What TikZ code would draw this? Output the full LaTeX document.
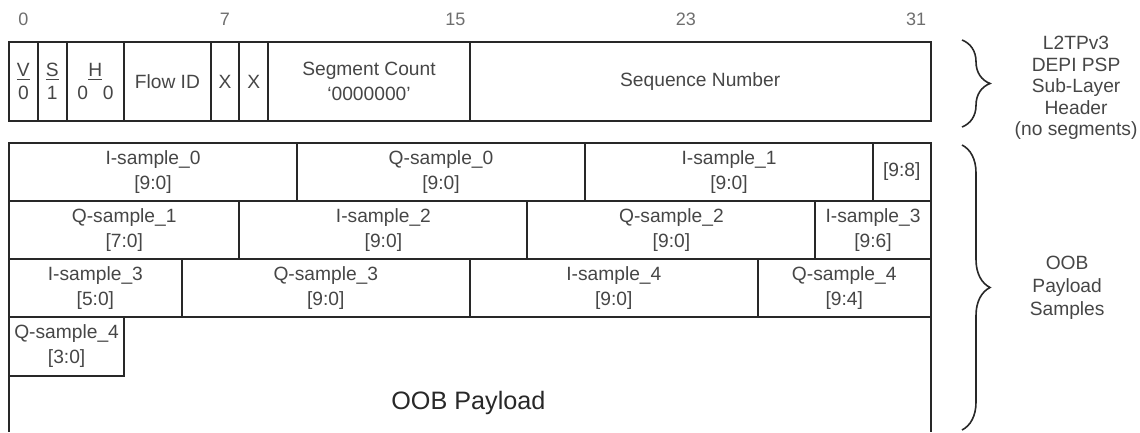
\documentclass[tikz,border=0pt]{standalone}
\usepackage{fontspec}
\setmainfont{Liberation Sans}
\usetikzlibrary{decorations.pathreplacing}

\definecolor{linegray}{RGB}{40,40,40}
\definecolor{textgray}{RGB}{70,70,70}
\definecolor{numgray}{RGB}{110,110,110}

\tikzset{
	field/.style={draw=linegray, line width=1pt},
	ftext/.style={text=textgray, align=center, inner sep=0pt, font=\fontsize{9.6}{12.5}\selectfont},
	bitno/.style={text=numgray, font=\fontsize{9}{11}\selectfont},
	sidetext/.style={text=textgray, align=center, font=\fontsize{9.6}{10.8}\selectfont},
	sidebrace/.style={draw=linegray, line width=0.8pt, decorate, decoration={brace, amplitude=14pt}}
}

\begin{document}
\begin{tikzpicture}[x=14.4pt, y=-0.5pt]
		\useasboundingbox (-0.3125, 0) rectangle (39.27, 432);
		% bit positions
		\node[bitno] (b0) at (0.5, 19) {0};
		\node[bitno] (b7) at (7.5, 19) {7};
		\node[bitno] (b15) at (15.5, 19) {15};
		\node[bitno] (b23) at (23.5, 19) {23};
		\node[bitno] (b31) at (31.5, 19) {31};
		% sub-layer header
		\draw[field] (0, 42) rectangle node[ftext] (vbit) {\underline{V}\\[-1pt]0} (1, 121);
		\draw[field] (1, 42) rectangle node[ftext] (sbit) {\underline{S}\\[-1pt]1} (2, 121);
		\draw[field] (2, 42) rectangle node[ftext] (hbits) {\underline{H}\\[-1pt]0\enspace\ 0} (4, 121);
		\draw[field] (4, 42) rectangle node[ftext] (flowid) {Flow ID} (7, 121);
		\draw[field] (7, 42) rectangle node[ftext] (xa) {X} (8, 121);
		\draw[field] (8, 42) rectangle node[ftext] (xb) {X} (9, 121);
		\draw[field] (9, 42) rectangle node[ftext] (segcount) {Segment Count\\`0000000'} (16, 121);
		\draw[field] (16, 42) rectangle node[ftext] (seqnum) {Sequence Number} (32, 121);
		% samples, row 1
		\draw[field] (0, 143) rectangle node[ftext] (isa0) {I-sample\_0\\{[9:0]}} (10, 201);
		\draw[field] (10, 143) rectangle node[ftext] (qsa0) {Q-sample\_0\\{[9:0]}} (20, 201);
		\draw[field] (20, 143) rectangle node[ftext] (isa1) {I-sample\_1\\{[9:0]}} (30, 201);
		\draw[field] (30, 143) rectangle node[ftext] (qsa1hi) {[9:8]} (32, 201);
		% row 2
		\draw[field] (0, 201) rectangle node[ftext] (qsa1lo) {Q-sample\_1\\{[7:0]}} (8, 259);
		\draw[field] (8, 201) rectangle node[ftext] (isa2) {I-sample\_2\\{[9:0]}} (18, 259);
		\draw[field] (18, 201) rectangle node[ftext] (qsa2) {Q-sample\_2\\{[9:0]}} (28, 259);
		\draw[field] (28, 201) rectangle node[ftext] (isa3hi) {I-sample\_3\\{[9:6]}} (32, 259);
		% row 3
		\draw[field] (0, 259) rectangle node[ftext] (isa3lo) {I-sample\_3\\{[5:0]}} (6, 317);
		\draw[field] (6, 259) rectangle node[ftext] (qsa3) {Q-sample\_3\\{[9:0]}} (16, 317);
		\draw[field] (16, 259) rectangle node[ftext] (isa4) {I-sample\_4\\{[9:0]}} (26, 317);
		\draw[field] (26, 259) rectangle node[ftext] (qsa4hi) {Q-sample\_4\\{[9:4]}} (32, 317);
		% row 4 and payload
		\draw[field] (0, 317) rectangle node[ftext] (qsa4lo) {Q-sample\_4\\{[3:0]}} (4, 376);
		\draw[field] (0, 376) -- (0, 432);
		\draw[field] (32, 317) -- (32, 432);
		\node[text=linegray, font=\fontsize{12.6}{15}\selectfont] (payload) at (15.95, 403) {OOB Payload};
		% braces
		\coordinate (hdrtop) at (33.09, 40);
		\coordinate (hdrbot) at (33.09, 127);
		\coordinate (smptop) at (33.09, 145);
		\coordinate (smpbot) at (33.09, 430);
		\draw[sidebrace] (hdrtop) -- (hdrbot);
		\draw[sidebrace] (smptop) -- (smpbot);
		\node[sidetext] (hdrlabel) at (37.05, 88) {L2TPv3\\DEPI PSP\\Sub-Layer\\Header\\(no segments)};
		\node[sidetext, font=\fontsize{9.6}{11.5}\selectfont] (smplabel) at (36.74, 288) {OOB\\Payload\\Samples};
	\end{tikzpicture}
\end{document}
